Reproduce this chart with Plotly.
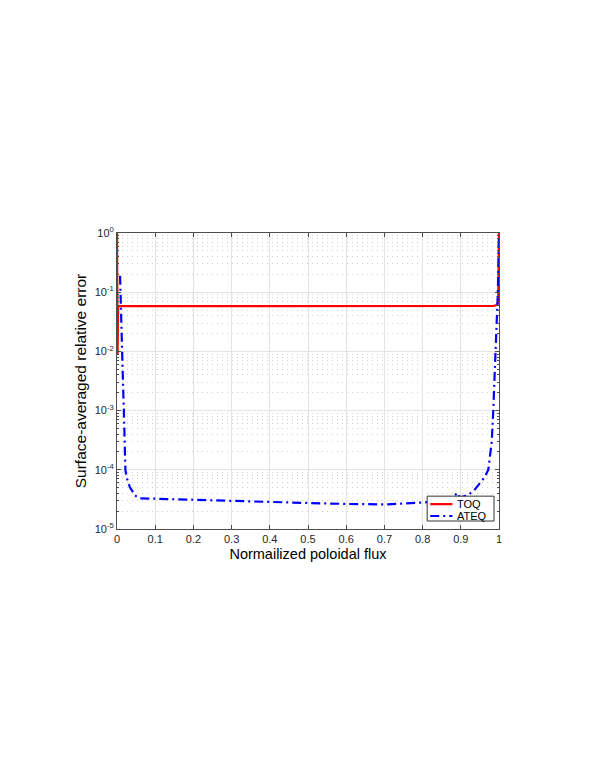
import plotly.graph_objects as go

# TOQ data
toq_x = [0.0, 0.0015, 0.003, 0.006, 0.1, 0.2, 0.3, 0.4, 0.5, 0.6, 0.7, 0.8, 0.9, 0.97, 0.985, 0.992, 0.996, 0.998, 1.0]
toq_y = [1.0, 0.009, 0.058, 0.058, 0.058, 0.058, 0.058, 0.058, 0.058, 0.058, 0.058, 0.058, 0.058, 0.058, 0.0585, 0.06, 0.063, 0.07, 1.0]

# ATEQ data
ateq_x = [0.008, 0.01, 0.013, 0.016, 0.018, 0.02, 0.022, 0.025, 0.029, 0.034, 0.04, 0.047, 0.055, 0.06,
          0.1, 0.2, 0.3, 0.4, 0.5, 0.6, 0.7, 0.8, 0.85, 0.88, 0.89, 0.895, 0.9, 0.91, 0.92,
          0.935, 0.945, 0.955, 0.963, 0.972, 0.977, 0.981, 0.985, 0.988, 0.991, 0.994, 0.997, 1.0]
ateq_y = [0.19, 0.05, 0.01, 0.0025, 0.001, 0.0004, 0.0001, 7.5e-05, 6e-05, 5e-05, 4.4e-05, 3.7e-05, 3.4e-05, 3.3e-05,
          3.25e-05, 3.1e-05, 3.0e-05, 2.85e-05, 2.75e-05, 2.65e-05, 2.6e-05, 2.8e-05, 3.0e-05, 3.3e-05, 4.1e-05, 3.6e-05, 3.4e-05, 3.6e-05, 3.8e-05,
          4.5e-05, 5.5e-05, 6.5e-05, 7.6e-05, 0.0001, 0.0002, 0.0003, 0.001, 0.003, 0.007, 0.03, 0.1, 0.8]

series_names = ["TOQ", "ATEQ"]
series_colors = ["#ff0000", "#0000ff"]
series_dash = ["solid", "9px,4px,2px,4px"]

x_ticks = [0, 0.1, 0.2, 0.3, 0.4, 0.5, 0.6, 0.7, 0.8, 0.9, 1]
x_ticklabels = ["0", "0.1", "0.2", "0.3", "0.4", "0.5", "0.6", "0.7", "0.8", "0.9", "1"]
y_ticks = [1e-5, 1e-4, 1e-3, 1e-2, 1e-1, 1e0]
y_ticklabels = ["10<sup>-5</sup>", "10<sup>-4</sup>", "10<sup>-3</sup>", "10<sup>-2</sup>", "10<sup>-1</sup>", "10<sup>0</sup>"]
y_minor = [m * 10 ** e for e in range(-5, 0) for m in range(2, 10)]

FONT = "Liberation Sans, Arial, Helvetica, sans-serif"
AX = "#4d4d4d"

fig = go.Figure()
for xs, ys, nm, col, dsh in zip([toq_x, ateq_x], [toq_y, ateq_y], series_names, series_colors, series_dash):
    fig.add_trace(go.Scatter(x=xs, y=ys, mode="lines", name=nm, showlegend=False,
                             line=dict(color=col, width=2.2, dash=dsh)))

# Compact MATLAB-style legend (box, line samples, labels) in axis-domain coordinates
box = dict(x0=0.812, x1=0.987, y0=0.027, y1=0.111)
shapes = [dict(type="rect", xref="x domain", yref="y domain", layer="above",
               fillcolor="white", line=dict(color="#333333", width=1), **box)]
annotations = []
rows = [0.084, 0.044]
for nm, col, dsh, ry in zip(series_names, series_colors, series_dash, rows):
    shapes.append(dict(type="line", xref="x domain", yref="y domain", layer="above",
                       x0=0.820, x1=0.878, y0=ry, y1=ry,
                       line=dict(color=col, width=2.2, dash=dsh)))
    annotations.append(dict(text=nm, xref="x domain", yref="y domain", x=0.885, y=ry,
                            xanchor="left", yanchor="middle", showarrow=False,
                            font=dict(family=FONT, size=11, color="#000000")))

fig.update_layout(
    width=591, height=768,
    margin=dict(l=109, r=100, t=225, b=247),
    paper_bgcolor="white", plot_bgcolor="white",
    font=dict(family=FONT, size=10, color="#262626"),
    showlegend=False,
    shapes=shapes, annotations=annotations,
)
fig.update_xaxes(
    range=[0, 1], tickvals=x_ticks, ticktext=x_ticklabels,
    showgrid=True, gridcolor="#e3e3e3", gridwidth=1,
    showline=True, linecolor=AX, linewidth=1, mirror="ticks",
    ticks="inside", ticklen=4, tickcolor=AX,
    zeroline=False,
    tickfont=dict(size=11, color="#262626"),
    title=dict(text="Normailized poloidal flux", font=dict(size=14.5, color="#000000"), standoff=4),
)
fig.update_yaxes(
    type="log", range=[-5, 0], tickvals=y_ticks, ticktext=y_ticklabels,
    showgrid=True, gridcolor="#e3e3e3", gridwidth=1,
    showline=True, linecolor=AX, linewidth=1, mirror="ticks",
    ticks="inside", ticklen=4, tickcolor=AX,
    zeroline=False,
    tickfont=dict(size=11, color="#262626"),
    minor=dict(tickvals=y_minor, showgrid=True, gridcolor="#cfcfcf", griddash="1px,4px",
               gridwidth=1, ticks="inside", ticklen=2, tickcolor=AX),
    title=dict(text="Surface-averaged relative error", font=dict(size=15.5, color="#000000"), standoff=4),
)

fig.write_html("out.html")
